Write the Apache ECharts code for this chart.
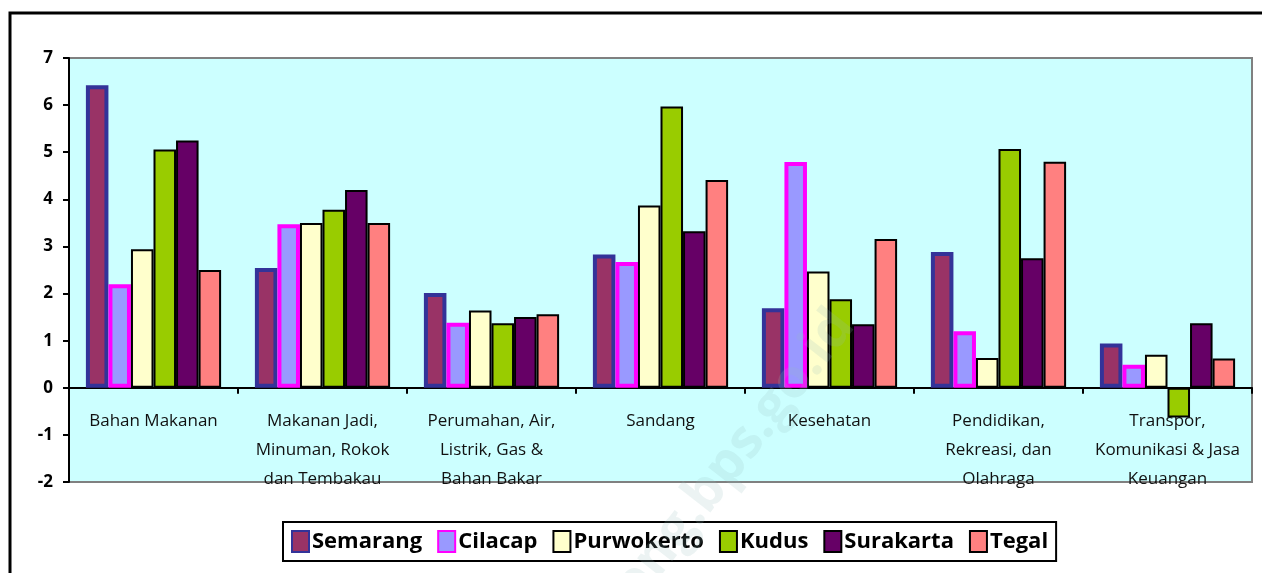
<!DOCTYPE html>
<html>
<head>
<meta charset="utf-8">
<script src="https://cdn.jsdelivr.net/npm/echarts@6/dist/echarts.min.js"></script>
<style>
  html, body { margin: 0; padding: 0; background: #fff; }
  #chart { width: 1262px; height: 573px; }
</style>
</head>
<body>
<div id="chart"></div>
<script>
  // kategori pengeluaran
  var categories = [
    'Bahan Makanan',
    'Makanan Jadi,\nMinuman, Rokok\ndan Tembakau',
    'Perumahan, Air,\nListrik, Gas &\nBahan Bakar',
    'Sandang',
    'Kesehatan',
    'Pendidikan,\nRekreasi, dan\nOlahraga',
    'Transpor,\nKomunikasi & Jasa\nKeuangan'
  ];
  var semarang   = [6.42, 2.54, 2.01, 2.83, 1.69, 2.88, 0.94];
  var cilacap    = [2.20, 3.47, 1.38, 2.67, 4.79, 1.20, 0.49];
  var purwokerto = [2.94, 3.50, 1.64, 3.87, 2.47, 0.63, 0.70];
  var kudus      = [5.06, 3.78, 1.37, 5.97, 1.88, 5.07, -0.63];
  var surakarta  = [5.25, 4.20, 1.50, 3.32, 1.35, 2.75, 1.37];
  var tegal      = [2.50, 3.50, 1.56, 4.41, 3.16, 4.80, 0.62];
  var yTicks = [-2, -1, 0, 1, 2, 3, 4, 5, 6, 7];

  var chart = echarts.init(document.getElementById('chart'));

  function bar(name, data, fill, border, bw) {
    return {
      name: name,
      type: 'bar',
      data: data,
      barGap: 0,
      barCategoryGap: '20%',
      itemStyle: { color: fill, borderColor: border, borderWidth: bw },
      emphasis: { disabled: true }
    };
  }

  var option = {
    animation: false,
    backgroundColor: '#fff',
    textStyle: { fontFamily: 'Open Sans' },
    graphic: [
      {
        type: 'rect', z: -1,
        shape: { x: 10, y: 13, width: 1300, height: 600 },
        style: { fill: '#fff', stroke: '#000', lineWidth: 3 }
      },
      {
        type: 'text', z: 100, left: 560, top: 300, rotation: Math.PI * 52 / 180,
        style: {
          text: 'jateng.bps.go.id', fontSize: 54, fontWeight: 'bold',
          fontFamily: 'Open Sans', fill: 'rgba(150,190,190,0.18)'
        }
      }
    ],
    grid: {
      left: 69, top: 58, width: 1183, height: 424,
      containLabel: false, outerBoundsMode: 'none',
      show: true, backgroundColor: '#CCFFFF', borderColor: '#808080', borderWidth: 2
    },
    legend: {
      top: 522, left: 283,
      padding: [8, 8, 8, 8],
      borderColor: '#000', borderWidth: 2,
      itemWidth: 17, itemHeight: 21, itemGap: 15,
      icon: 'rect',
      textStyle: { fontSize: 22, fontWeight: 'bold', color: '#000', fontFamily: 'Open Sans', padding: [0, 0, 0, -2] },
      data: ['Semarang', 'Cilacap', 'Purwokerto', 'Kudus', 'Surakarta', 'Tegal']
    },
    xAxis: [
      {
        type: 'category',
        data: categories,
        axisLine: { onZero: true, lineStyle: { color: '#000', width: 2 } },
        axisTick: { show: true, length: 6, lineStyle: { color: '#000', width: 2 } },
        axisLabel: { show: false },
        splitLine: { show: false }
      },
      {
        type: 'category',
        data: categories,
        position: 'bottom',
        axisLine: { show: false, onZero: false },
        axisTick: { show: false },
        axisLabel: {
          color: '#111', fontSize: 17, lineHeight: 29, margin: -75,
          interval: 0, fontFamily: 'Open Sans'
        },
        splitLine: { show: false }
      }
    ],
    yAxis: {
      type: 'value',
      min: yTicks[0], max: yTicks[yTicks.length - 1], interval: 1,
      axisLine: { show: true, lineStyle: { color: '#000', width: 2 } },
      axisTick: { show: true, length: 6, lineStyle: { color: '#000', width: 2 } },
      axisLabel: { color: '#000', fontSize: 17, fontWeight: 'bold', margin: 16 },
      splitLine: { show: false }
    },
    series: [
      bar('Semarang', semarang, '#993366', '#333399', 4),
      bar('Cilacap', cilacap, '#9999FF', '#FF00FF', 4),
      bar('Purwokerto', purwokerto, '#FFFFCC', '#000', 2),
      bar('Kudus', kudus, '#99CC00', '#000', 2),
      bar('Surakarta', surakarta, '#660066', '#000', 2),
      bar('Tegal', tegal, '#FF8080', '#000', 2)
    ]
  };
  chart.setOption(option);
</script>
</body>
</html>
